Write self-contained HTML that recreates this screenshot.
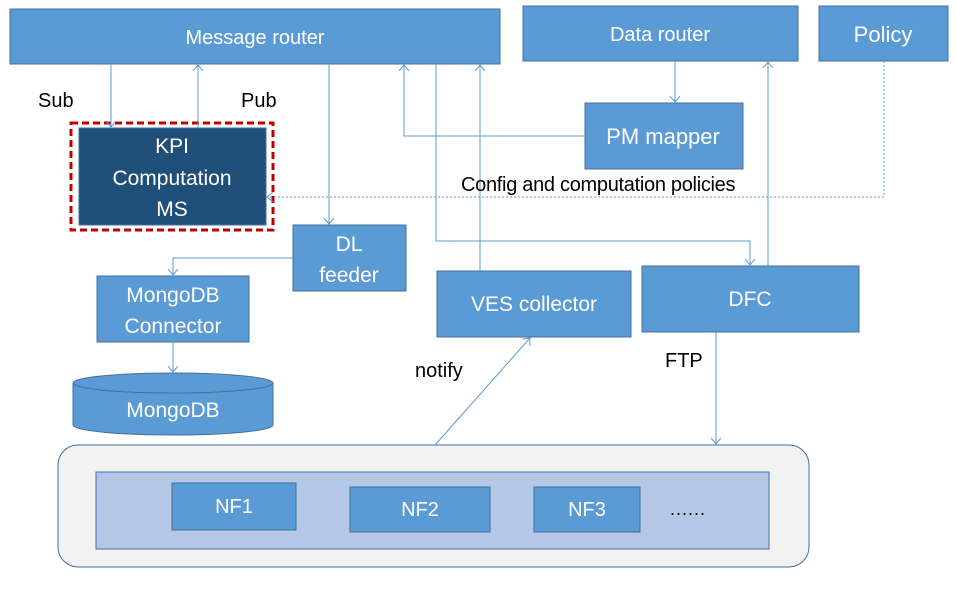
<!DOCTYPE html>
<html><head><meta charset="utf-8"><style>
html,body{margin:0;padding:0;background:#fff;}
text{font-family:"Liberation Sans",sans-serif;}
</style></head><body>
<svg width="956" height="589" viewBox="0 0 956 589" xmlns="http://www.w3.org/2000/svg">
<defs>
<marker id="a" markerWidth="12" markerHeight="12" refX="6" refY="6" orient="auto" markerUnits="userSpaceOnUse">
<path d="M0,1 L6,6 L0,11" fill="none" stroke="#5b9bd5" stroke-width="1"/>
</marker>
</defs>
<g fill="#5b9bd5" stroke="#41719c" stroke-width="1">
<rect x="10" y="9" width="490" height="55"/>
<rect x="523" y="6" width="275" height="55"/>
<rect x="819" y="6" width="129" height="55"/>
<rect x="585" y="103" width="158" height="66"/>
<rect x="293" y="225" width="113" height="66"/>
<rect x="97" y="276" width="152" height="66"/>
<rect x="437" y="271" width="194" height="66"/>
<rect x="642" y="266" width="217" height="66"/>
</g>
<rect x="71" y="123" width="202" height="107" fill="none" stroke="#c00000" stroke-width="3" stroke-dasharray="7,4"/>
<rect x="79" y="128" width="187" height="97" fill="#1f4e79" stroke="#41719c"/>
<path d="M73,383 L73,425 A100,10 0 0 0 273,425 L273,383" fill="#5b9bd5" stroke="#41719c"/>
<ellipse cx="173" cy="383" rx="100" ry="10" fill="#5b9bd5" stroke="#41719c"/>
<rect x="58" y="445" width="751" height="122" rx="20" fill="#f2f2f2" stroke="#41719c"/>
<rect x="96" y="472" width="673" height="77" fill="#b4c7e7" stroke="#41719c"/>
<g fill="#5b9bd5" stroke="#41719c">
<rect x="172" y="483" width="124" height="47"/>
<rect x="350" y="487" width="140" height="45"/>
<rect x="534" y="487" width="106" height="45"/>
</g>
<g fill="none" stroke="#5b9bd5" stroke-width="1">
<path d="M111,64 V127" marker-end="url(#a)"/>
<path d="M198,128 V65" marker-end="url(#a)"/>
<path d="M329,64 V224" marker-end="url(#a)"/>
<path d="M293,258 H173 V275" marker-end="url(#a)"/>
<path d="M173,342 V372" marker-end="url(#a)"/>
<path d="M585,136 H404 V65" marker-end="url(#a)"/>
<path d="M675,61 V102" marker-end="url(#a)"/>
<path d="M436,64 V241 H750 V265" marker-end="url(#a)"/>
<path d="M480,271 V65" marker-end="url(#a)"/>
<path d="M768,266 V62" marker-end="url(#a)"/>
<path d="M884,61 V197 H267" stroke-dasharray="2,2" marker-end="url(#a)"/>
<path d="M716,332 V444" marker-end="url(#a)"/>
<path d="M435,445 L530,338" marker-end="url(#a)"/>
</g>
<g fill="#fff" font-size="20" text-anchor="middle">
<text x="255" y="44">Message router</text>
<text x="660" y="41">Data router</text>
<text x="883" y="42" font-size="22">Policy</text>
<text x="663" y="144" font-size="22">PM mapper</text>
<text x="172" y="153" font-size="21">KPI</text>
<text x="172" y="185" font-size="21">Computation</text>
<text x="172" y="216" font-size="21">MS</text>
<text x="349" y="251" font-size="21">DL</text>
<text x="349" y="282" font-size="21">feeder</text>
<text x="173" y="302" font-size="21">MongoDB</text>
<text x="173" y="333" font-size="21">Connector</text>
<text x="173" y="417" font-size="21">MongoDB</text>
<text x="534" y="311" font-size="21">VES collector</text>
<text x="750" y="306" font-size="21">DFC</text>
<text x="234" y="513">NF1</text>
<text x="420" y="516">NF2</text>
<text x="587" y="516">NF3</text>
</g>
<g fill="#000" font-size="20">
<text x="38" y="107">Sub</text>
<text x="241" y="107">Pub</text>
<text x="461" y="191" font-size="20" letter-spacing="-0.3">Config and computation policies</text>
<text x="415" y="377">notify</text>
<text x="665" y="367">FTP</text>
<text x="670" y="515" font-size="18" letter-spacing="1">......</text>
</g>
</svg>
</body></html>
